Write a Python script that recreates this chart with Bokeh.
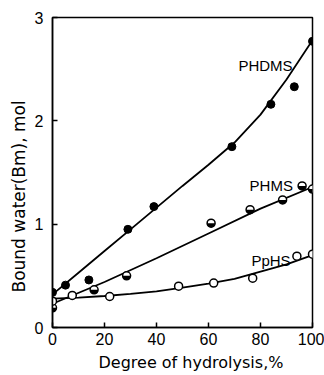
from bokeh.plotting import figure
from bokeh.embed import file_html
from bokeh.resources import INLINE
from bokeh.models import Range1d, FixedTicker, Title
from bokeh.core.properties import value
import math

# Data points
phdms_x = [0, 5, 14, 29, 39, 69, 84, 93, 100]
phdms_y = [0.34, 0.41, 0.46, 0.95, 1.17, 1.75, 2.16, 2.33, 2.77]
phms_x = [0, 16, 28.5, 61, 76, 88.5, 96, 100]
phms_y = [0.19, 0.365, 0.50, 1.01, 1.14, 1.235, 1.37, 1.34]
pphs_x = [0, 7.6, 22, 48.5, 62, 77, 94, 100]
pphs_y = [0.255, 0.31, 0.30, 0.40, 0.43, 0.477, 0.69, 0.71]

# Fitted curves
phdms_cx = [0, 10, 20, 30, 40, 50, 60, 70, 80, 90, 100]
phdms_cy = [0.32, 0.53, 0.74, 0.95, 1.16, 1.37, 1.575, 1.79, 2.06, 2.40, 2.78]
phms_cx = [0, 20, 40, 60, 80, 100]
phms_cy = [0.23, 0.44, 0.67, 0.91, 1.15, 1.36]
pphs_cx = [0, 10, 20, 30, 40, 50, 60, 70, 80, 90, 100]
pphs_cy = [0.28, 0.29, 0.305, 0.325, 0.35, 0.385, 0.425, 0.47, 0.54, 0.61, 0.70]

x_ticks = [0, 20, 40, 60, 80, 100]
y_ticks = [0, 1, 2, 3]

labels = ["PHDMS", "PHMS", "PpHS"]
label_x = [71.5, 75.8, 76.5]
label_y = [2.54, 1.375, 0.65]

x_title = "Degree of hydrolysis,%"
y_title = "Bound water(Bm), mol"

FONT = "DejaVu Sans"
TFONT = "Liberation Sans"

p = figure(width=324, height=375, output_backend="svg", toolbar_location=None,
           x_range=Range1d(0, 100), y_range=Range1d(0, 3),
           min_border_left=52, min_border_right=12, min_border_top=17, min_border_bottom=48)
p.grid.visible = False
p.background_fill_color = "white"
p.border_fill_color = "white"
p.outline_line_color = "black"
p.outline_line_width = 1.5

for ax in (p.xaxis[0], p.yaxis[0]):
    ax.axis_line_width = 1.5
    ax.major_tick_in = 5
    ax.major_tick_out = 0
    ax.major_tick_line_width = 1.5
    ax.minor_tick_line_color = None
    ax.major_label_text_font = TFONT
    ax.major_label_text_font_size = "16px"
    ax.major_label_text_color = "black"

p.xaxis.ticker = FixedTicker(ticks=x_ticks)
p.yaxis.ticker = FixedTicker(ticks=y_ticks)
p.xaxis.major_label_standoff = 5
p.yaxis.major_label_standoff = 9

# axis titles as side titles (allow offset like the reference)
p.add_layout(Title(text=x_title, text_font=FONT, text_font_size="16px", text_font_style="normal",
                   text_color="black", align="left", offset=46, standoff=6), "below")
p.add_layout(Title(text=y_title, text_font=FONT, text_font_size="17px", text_font_style="normal",
                   text_color="black", align="left", offset=35, standoff=5), "left")

# curves
p.line(phdms_cx, phdms_cy, line_color="black", line_width=1.8)
p.line(phms_cx, phms_cy, line_color="black", line_width=1.8)
p.line(pphs_cx, pphs_cy, line_color="black", line_width=1.8)

# PHDMS filled
p.scatter(phdms_x, phdms_y, size=8, marker="circle", fill_color="black", line_color="black")
# PHMS half-filled
p.scatter(phms_x, phms_y, size=8, marker="circle", fill_color="white", line_color="black", line_width=1.5)
p.wedge(phms_x, phms_y, radius=4, radius_units="screen", start_angle=math.pi, end_angle=2 * math.pi,
        fill_color="black", line_color=None)
# PpHS open
p.scatter(pphs_x, pphs_y, size=8, marker="circle", fill_color="white", line_color="black", line_width=1.5)

p.text(label_x, label_y, text=labels, text_font=value(TFONT), text_font_size="15px",
       text_color="black", text_baseline="alphabetic", text_align="left")

open("out.html", "w").write(file_html(p, INLINE))
